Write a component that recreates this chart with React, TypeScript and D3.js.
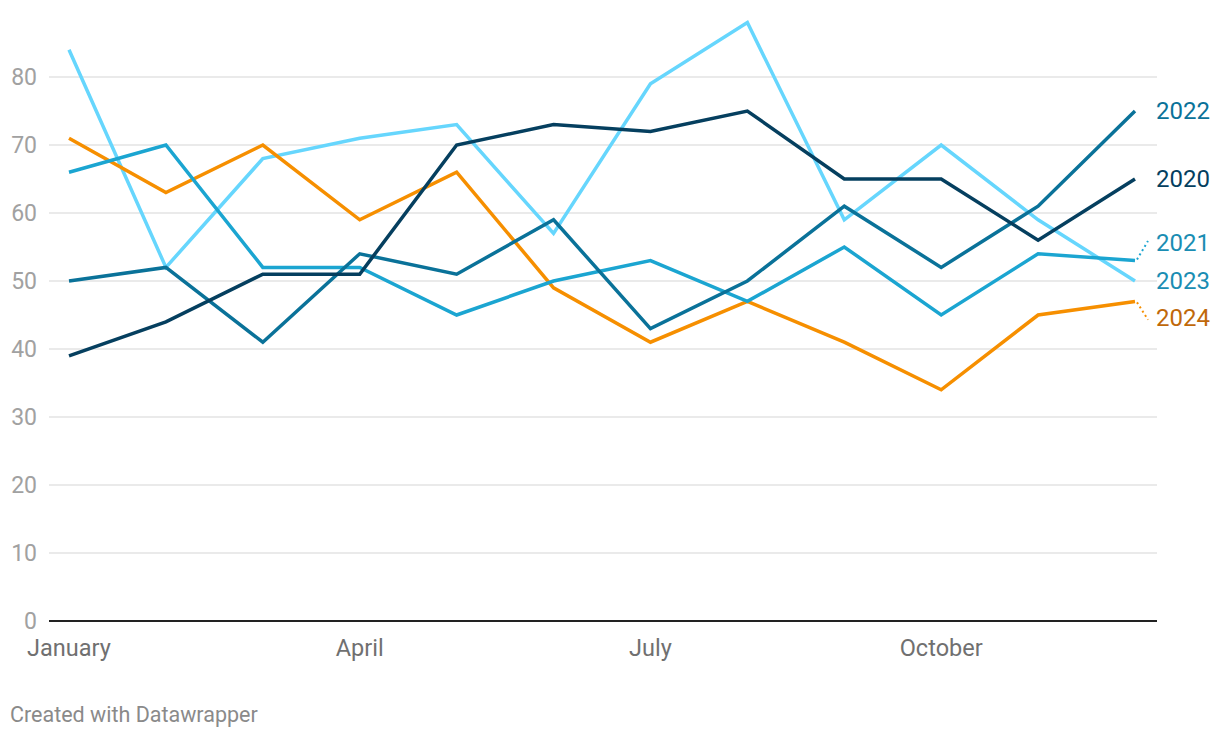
import React from 'react';
import * as d3 from 'd3';

const months = ['January', 'February', 'March', 'April', 'May', 'June', 'July', 'August', 'September', 'October', 'November', 'December'];
const monthTicks = ['January', 'April', 'July', 'October'];
const yTicks = [0, 10, 20, 30, 40, 50, 60, 70, 80];

const values2020 = [39, 44, 51, 51, 70, 73, 72, 75, 65, 65, 56, 65];
const values2021 = [66, 70, 52, 52, 45, 50, 53, 47, 55, 45, 54, 53];
const values2022 = [50, 52, 41, 54, 51, 59, 43, 50, 61, 52, 61, 75];
const values2023 = [84, 52, 68, 71, 73, 57, 79, 88, 59, 70, 59, 50];
const values2024 = [71, 63, 70, 59, 66, 49, 41, 47, 41, 34, 45, 47];

// order = drawing order (last on top)
const series = [
  { name: '2023', values: values2023, color: '#66d6fd', label: '#1a8db3', labelY: 50 },
  { name: '2024', values: values2024, color: '#f68f00', label: '#c0680a', labelY: 44.6 },
  { name: '2021', values: values2021, color: '#1ba5d1', label: '#1a8db3', labelY: 55.6 },
  { name: '2022', values: values2022, color: '#0a7299', label: '#0a7299', labelY: 75 },
  { name: '2020', values: values2020, color: '#053f5f', label: '#053f5f', labelY: 65 },
];

const W = 1220;
const H = 738;

export default function App() {
  const x = d3.scalePoint<string>().domain(months).range([69, 1135]);
  const y = d3.scaleLinear().domain([0, 80]).range([621, 77]);
  const line = d3.line<number>()
    .x((_, i) => x(months[i]) as number)
    .y(d => y(d));
  const font = 'Roboto, sans-serif';
  const lastX = x(months[months.length - 1]) as number;

  return (
    <div>
      <style>{`body{margin:0}`}</style>
      <svg width={W} height={H} style={{ display: 'block', fontFamily: font }}>
        <rect width={W} height={H} fill="#fff" />
        {yTicks.filter(t => t > 0).map(t => (
          <line key={t} x1={49} x2={1157} y1={y(t)} y2={y(t)} stroke="#e3e3e3" strokeWidth={1.5} />
        ))}
        {yTicks.map(t => (
          <text key={t} x={37} y={y(t)} dy="0.35em" textAnchor="end" fontSize={23} fill="#a1a1a1">{t}</text>
        ))}
        <line x1={49} x2={1157} y1={y(0)} y2={y(0)} stroke="#222" strokeWidth={2} />
        {monthTicks.map(m => (
          <text key={m} x={x(m)} y={656} textAnchor="middle" fontSize={23.5} fill="#707070">{m}</text>
        ))}
        {series.map(s => (
          <path key={s.name} d={line(s.values) || ''} fill="none" stroke={s.color} strokeWidth={3.5} strokeLinejoin="miter" />
        ))}
        {series.map(s => {
          const endY = y(s.values[s.values.length - 1]);
          const ly = y(s.labelY);
          const moved = Math.abs(endY - ly) > 3;
          return (
            <g key={s.name}>
              {moved && (
                <line x1={lastX + 2} y1={endY + (ly > endY ? 1 : -1)} x2={lastX + 13} y2={ly + (ly > endY ? 2 : -2)}
                  stroke={s.color} strokeWidth={2} strokeDasharray="2,3" />
              )}
              <text x={1156} y={ly} dy="0.35em" fontSize={24} fill={s.label}>{s.name}</text>
            </g>
          );
        })}
        <text x={10} y={722} fontSize={21.5} fill="#8a8a8a">Created with Datawrapper</text>
      </svg>
    </div>
  );
}
